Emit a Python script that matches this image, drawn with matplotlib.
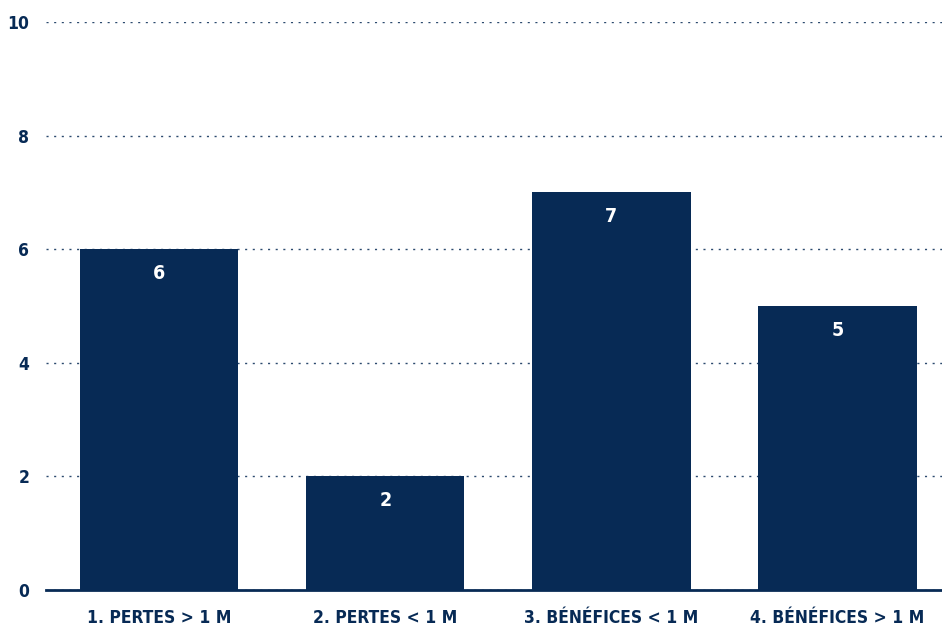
import matplotlib.pyplot as plt

categories = ["1. PERTES > 1 M", "2. PERTES < 1 M", "3. BÉNÉFICES < 1 M", "4. BÉNÉFICES > 1 M"]
values = [6, 2, 7, 5]
yticks = [0, 2, 4, 6, 8, 10]

navy = "#072a55"
plt.rcParams["font.family"] = ["DejaVu Sans"]

fig = plt.figure(figsize=(9.42, 6.32), dpi=100)
ax = fig.add_axes([46 / 942, 42 / 632, 1 - 46 / 942, 568 / 632])

x = range(len(categories))
bars = ax.bar(x, values, width=0.7, color=navy, zorder=3)
for b, v in zip(bars, values):
    ax.annotate(str(v), (b.get_x() + b.get_width() / 2, v), xytext=(0, -24),
                textcoords="offset pixels", ha="center", va="center",
                color="white", fontsize=14, fontweight="bold", fontstretch="condensed")

ax.set_xlim(-0.5, 3.462)
ax.set_ylim(0, 10)
ax.set_yticks(yticks)
ax.set_xticks(list(x))
ax.set_xticklabels(categories, fontsize=12.5, fontweight="bold", color=navy, fontstretch="condensed")
for lab in ax.get_yticklabels():
    lab.set_fontsize(12.5)
    lab.set_fontweight("bold")
    lab.set_fontstretch("condensed")
    lab.set_color(navy)
ax.tick_params(axis="y", length=0, pad=12)
ax.tick_params(axis="x", length=0, pad=14)
ax.yaxis.grid(True, linestyle=(0, (1.5, 4)), color=navy, linewidth=1, alpha=0.85, zorder=0)
for s in ["top", "right", "left"]:
    ax.spines[s].set_visible(False)
ax.spines["bottom"].set_color(navy)
ax.spines["bottom"].set_linewidth(2)
ax.spines["bottom"].set_zorder(4)

fig.savefig("out.png", dpi=100)
